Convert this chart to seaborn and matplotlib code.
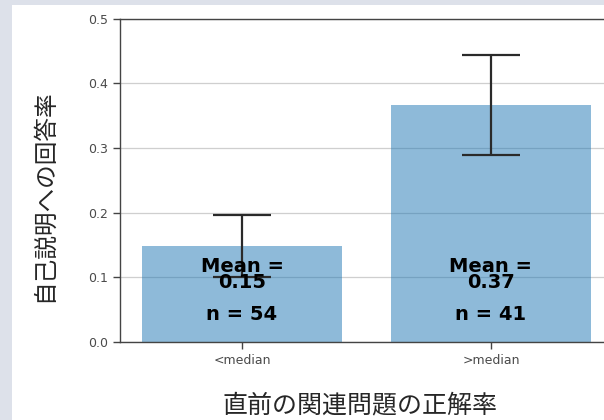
import matplotlib
matplotlib.use("Agg")
import matplotlib.pyplot as plt
from matplotlib.patches import Rectangle
import pandas as pd
import seaborn as sns

# Response rate to the self-explanation prompt, split by prior accuracy
groups = ["<median", ">median"]
means = [0.148, 0.366]
sems = [0.048, 0.077]
counts = [54, 41]
yticks = [0.0, 0.1, 0.2, 0.3, 0.4, 0.5]
x_title = "直前の関連問題の正解率"
y_title = "自己説明への回答率"

sns.set_style("white")
plt.rcParams["font.family"] = ["DejaVu Sans"]
cjk = ["Noto Sans CJK JP", "DejaVu Sans"]

fig = plt.figure(figsize=(6.04, 4.20), dpi=100, facecolor="#dde1ea")
fig.add_artist(Rectangle((12 / 604, 0), 1, 415 / 420, transform=fig.transFigure,
                         facecolor="white", edgecolor="none", zorder=-10))
ax = fig.add_axes([120 / 604, 78 / 420, 493 / 604, 323.5 / 420])

df = pd.DataFrame({"group": groups, "rate": means})
sns.barplot(data=df, x="group", y="rate", color="tab:blue", alpha=0.5,
            saturation=1, width=0.8, errorbar=None, linewidth=0, ax=ax)
ax.errorbar(range(len(groups)), means, yerr=sems, fmt="none", ecolor="#2a2a2a",
            elinewidth=1.6, capsize=21, capthick=1.6, zorder=3)

for i, (m, n) in enumerate(zip(means, counts)):
    ax.text(i, 0.105, f"Mean =\n{m:.2f}", ha="center", va="center",
            fontsize=14, fontweight="bold", linespacing=0.8, color="black", zorder=4)
    ax.text(i, 0.042, f"n = {n}", ha="center", va="center",
            fontsize=14, fontweight="bold", color="black", zorder=4)

ax.set_xlim(-0.49, 1.49)
ax.set_ylim(0, 0.5)
ax.set_yticks(yticks)
ax.set_yticklabels([f"{t:.1f}" for t in yticks])
ax.set_axisbelow(True)
ax.yaxis.grid(True, color="#cfcfcf", linewidth=0.9)
ax.xaxis.grid(False)

ax.tick_params(axis="both", bottom=True, left=True, direction="out", length=5,
               width=1, color="#444444", labelsize=9, labelcolor="#4a4a4a")
for side in ["left", "bottom", "top", "right"]:
    ax.spines[side].set_color("#444444")
    ax.spines[side].set_linewidth(1)

ax.set_xlabel(x_title, fontsize=18, family=cjk)
ax.set_ylabel(y_title, fontsize=17, family=cjk)
ax.xaxis.set_label_coords(0.487, -0.195)
ax.xaxis.label.set_va("center")
ax.yaxis.set_label_coords(-0.154, 0.451)
ax.yaxis.label.set_va("center")

fig.savefig("out.png", dpi=100, facecolor=fig.get_facecolor())
